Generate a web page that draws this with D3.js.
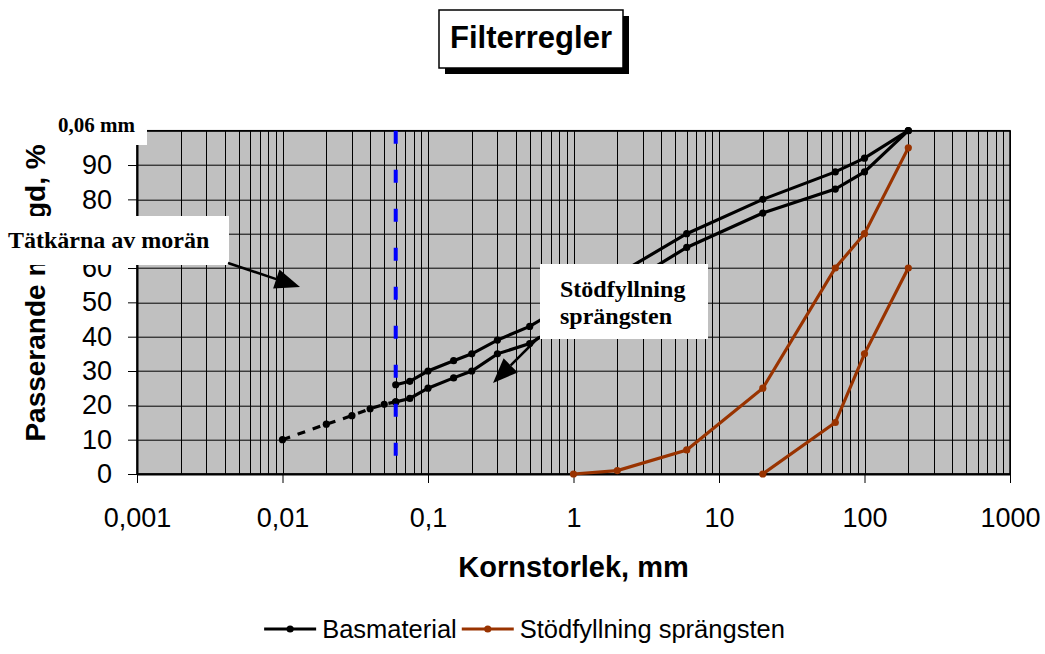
<!DOCTYPE html>
<html>
<head>
<meta charset="utf-8">
<script src="https://cdn.jsdelivr.net/npm/d3@7"></script>
<style>
  body { margin: 0; background: #fff; }
  svg { display: block; }
</style>
</head>
<body>
<div id="chart"></div>
<script>
// kornstorlek (mm) och passerande mängd (%)
const xTickValues = [0.001, 0.01, 0.1, 1, 10, 100, 1000];
const xTickLabels = ["0,001", "0,01", "0,1", "1", "10", "100", "1000"];
const yTickValues = [0, 10, 20, 30, 40, 50, 60, 70, 80, 90, 100];
// 70 och 100 ligger under textrutorna och syns inte
const yHiddenLabels = [70, 100];

const basX      = [0.06, 0.075, 0.1, 0.15, 0.2, 0.3, 0.5, 6, 20, 63, 100, 200];
const basUpperY = [26, 27, 30, 33, 35, 39, 43, 70, 80, 88, 92, 100];
const basLowerY = [21, 22, 25, 28, 30, 35, 38, 66, 76, 83, 88, 100];

// streckad förlängning av basmaterialet
const basDashX = [0.01, 0.02, 0.03, 0.04, 0.05, 0.06];
const basDashY = [10, 14.5, 17, 19, 20.3, 21];

const stodUpperX = [1, 2, 6, 20, 63, 100, 200];
const stodUpperY = [0, 1, 7, 25, 60, 70, 95];
const stodLowerX = [20, 63, 100, 200];
const stodLowerY = [0, 15, 35, 60];

const sieveLimit = 0.06;

const W = 1045, H = 654;
const margin = {top: 130.7, right: 35, bottom: 180, left: 137};
const width = W - margin.left - margin.right,
      height = H - margin.top - margin.bottom;

const black = "#000", brown = "#993300", blue = "#0000ff";
const sans = "'Liberation Sans', Arial, sans-serif";
const serif = "'Liberation Serif', 'Times New Roman', serif";

const svg = d3.select("#chart").append("svg")
    .attr("width", W)
    .attr("height", H);

// title with shadow
const title = svg.append("g");
title.append("rect")
    .attr("x", 445).attr("y", 16).attr("width", 184).attr("height", 58)
    .attr("fill", black);
title.append("rect")
    .attr("x", 439).attr("y", 10).attr("width", 184).attr("height", 58)
    .attr("fill", "#fff").attr("stroke", black).attr("stroke-width", 1.5);
title.append("text")
    .attr("x", 531).attr("y", 48)
    .attr("text-anchor", "middle")
    .attr("font-family", sans).attr("font-weight", "bold").attr("font-size", 31)
    .text("Filterregler");

const g = svg.append("g")
    .attr("transform", `translate(${margin.left},${margin.top})`);

let x = d3.scaleLog()
    .domain([0.001, 1000])
    .range([0, width]);

let y = d3.scaleLinear()
    .domain([0, 100])
    .range([height, 0]);

g.append("rect")
    .attr("width", width).attr("height", height)
    .attr("fill", "#c0c0c0");

// grid
g.append("g")
  .selectAll("line")
  .data(x.ticks())
  .join("line")
    .attr("x1", d => Math.round(x(d)) + 0.5)
    .attr("x2", d => Math.round(x(d)) + 0.5)
    .attr("y1", 0).attr("y2", height)
    .attr("stroke", black).attr("stroke-width", 1);

g.append("g")
  .selectAll("line")
  .data(yTickValues)
  .join("line")
    .attr("x1", 0).attr("x2", width)
    .attr("y1", d => Math.round(y(d)) + 0.5)
    .attr("y2", d => Math.round(y(d)) + 0.5)
    .attr("stroke", black).attr("stroke-width", 1);

g.append("rect")
    .attr("width", width).attr("height", height)
    .attr("fill", "none").attr("stroke", black).attr("stroke-width", 1.5);

// axes
let xAxis = gg => gg
    .attr("transform", `translate(0,${height})`)
    .call(d3.axisBottom(x).tickValues(xTickValues)
        .tickFormat((d, i) => xTickLabels[i])
        .tickSize(9).tickSizeOuter(0).tickPadding(25))
    .call(gg => gg.select(".domain").attr("stroke-width", 2))
    .call(gg => gg.selectAll("text")
        .attr("font-family", sans).attr("font-size", 27).attr("fill", black));

let yAxis = gg => gg
    .call(d3.axisLeft(y).tickValues(yTickValues)
        .tickFormat(d => yHiddenLabels.includes(d) ? "" : d)
        .tickSize(9).tickSizeOuter(0).tickPadding(16))
    .call(gg => gg.select(".domain").attr("stroke-width", 2))
    .call(gg => gg.selectAll("text")
        .attr("font-family", sans).attr("font-size", 27).attr("fill", black));

g.append("g").call(xAxis);
g.append("g").call(yAxis);

// axis titles
svg.append("text")
    .attr("x", margin.left + width / 2).attr("y", 577)
    .attr("text-anchor", "middle")
    .attr("font-family", sans).attr("font-weight", "bold").attr("font-size", 29)
    .text("Kornstorlek, mm");

svg.append("text")
    .attr("transform", "translate(45,293) rotate(-90)")
    .attr("text-anchor", "middle")
    .attr("font-family", sans).attr("font-weight", "bold").attr("font-size", 28)
    .text("Passerande mängd, %");

// curves
const line = d3.line().x(d => x(d[0])).y(d => y(d[1]));
const zip = (xs, ys) => xs.map((v, i) => [v, ys[i]]);

const series = [
  {pts: zip(basDashX, basDashY), color: black, dash: "8,8"},
  {pts: zip(basX, basUpperY), color: black},
  {pts: zip(basX, basLowerY), color: black},
  {pts: zip(stodUpperX, stodUpperY), color: brown},
  {pts: zip(stodLowerX, stodLowerY), color: brown}
];

series.forEach(s => {
  g.append("path")
      .datum(s.pts)
      .attr("d", line)
      .attr("fill", "none")
      .attr("stroke", s.color)
      .attr("stroke-width", 3.2)
      .attr("stroke-dasharray", s.dash || null);
  g.append("g")
    .selectAll("circle")
    .data(s.pts)
    .join("circle")
      .attr("cx", d => x(d[0]))
      .attr("cy", d => y(d[1]))
      .attr("r", 3.6)
      .attr("fill", s.color);
});

// 0,06 mm line
g.append("line")
    .attr("x1", x(sieveLimit)).attr("x2", x(sieveLimit))
    .attr("y1", 0).attr("y2", height)
    .attr("stroke", blue).attr("stroke-width", 4)
    .attr("stroke-dasharray", "13,26");

// annotations
const arrowHead = (x1, y1, x2, y2, len, half) => {
  const a = Math.atan2(y2 - y1, x2 - x1);
  const bx = x2 - len * Math.cos(a), by = y2 - len * Math.sin(a);
  return [[x2, y2],
          [bx + half * Math.sin(a), by - half * Math.cos(a)],
          [bx - half * Math.sin(a), by + half * Math.cos(a)]];
};

const notes = svg.append("g");

notes.append("rect")
    .attr("x", 46).attr("y", 110).attr("width", 101).attr("height", 35)
    .attr("fill", "#fff");
notes.append("text")
    .attr("x", 58).attr("y", 132)
    .attr("font-family", serif).attr("font-weight", "bold").attr("font-size", 21)
    .text("0,06 mm");

notes.append("rect")
    .attr("x", 0).attr("y", 216).attr("width", 229).attr("height", 49)
    .attr("fill", "#fff");
notes.append("text")
    .attr("x", 8).attr("y", 248)
    .attr("font-family", serif).attr("font-weight", "bold").attr("font-size", 24)
    .text("Tätkärna av morän");

notes.append("rect")
    .attr("x", 540).attr("y", 264).attr("width", 168).attr("height", 75)
    .attr("fill", "#fff");
notes.append("text")
    .attr("font-family", serif).attr("font-weight", "bold").attr("font-size", 24)
    .selectAll("tspan")
    .data(["Stödfyllning", "sprängsten"])
    .join("tspan")
      .attr("x", 560)
      .attr("y", (d, i) => 297 + i * 27)
      .text(d => d);

const arrows = [
  {from: [228, 263], to: [300, 287]},
  {from: [539, 337], to: [493, 383]}
];
arrows.forEach(a => {
  const head = arrowHead(a.from[0], a.from[1], a.to[0], a.to[1], 25, 10);
  const base = [(head[1][0] + head[2][0]) / 2, (head[1][1] + head[2][1]) / 2];
  notes.append("line")
      .attr("x1", a.from[0]).attr("y1", a.from[1])
      .attr("x2", base[0]).attr("y2", base[1])
      .attr("stroke", black).attr("stroke-width", 2.5);
  notes.append("polygon")
      .attr("points", head.map(p => p.join(",")).join(" "))
      .attr("fill", black);
});

// legend
const legendItems = [
  {name: "Basmaterial", color: black},
  {name: "Stödfyllning sprängsten", color: brown}
];
const legend = svg.append("g").attr("font-family", sans).attr("font-size", 25.5);
let lx = 0;
legendItems.forEach(it => {
  const item = legend.append("g").attr("transform", `translate(${lx},0)`);
  item.append("line")
      .attr("x1", 0).attr("x2", 52).attr("y1", 0).attr("y2", 0)
      .attr("stroke", it.color).attr("stroke-width", 3.2);
  item.append("circle").attr("cx", 26).attr("r", 3.6).attr("fill", it.color);
  const t = item.append("text").attr("x", 58).attr("y", 9).text(it.name);
  lx += 58 + t.node().getComputedTextLength() + 5;
});
legend.attr("transform", `translate(${(W - (lx - 5)) / 2 + 2},629)`);
</script>
</body>
</html>
